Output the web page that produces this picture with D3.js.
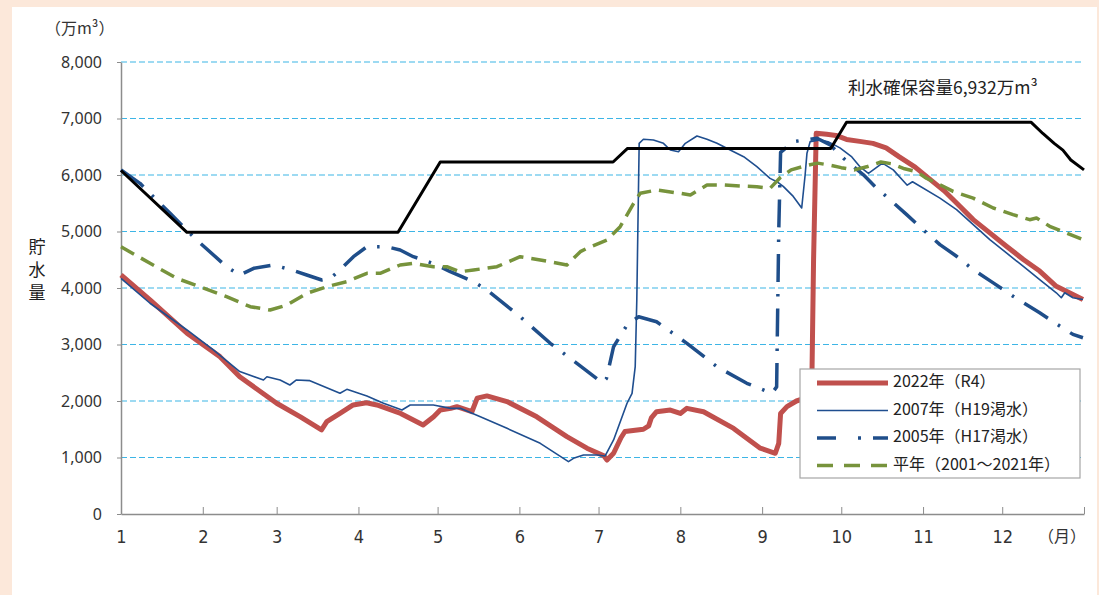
<!DOCTYPE html>
<html><head><meta charset="utf-8">
<script src="https://cdn.jsdelivr.net/npm/d3@7"></script>
<style>body{margin:0;background:#fce8da;}svg{display:block;}</style>
</head><body>
<svg id="chart" width="1099" height="595"></svg>
<script>
// ---- data (day of year, 万m³) ----
const monthStarts = [0,31,59,90,120,151,181,212,243,273,304,334,365];
const monthLabels = ["1","2","3","4","5","6","7","8","9","10","11","12",""];
const yTicks = [0,1000,2000,3000,4000,5000,6000,7000,8000];

const capacity = [[0,6080],[25,4985],[105,4985],[121,6230],[186.5,6230],[192,6470],[269,6470],[275,6932],[345,6932],[349.4,6735],[353.7,6560],[357,6440],[360,6265],[365,6090]];

const y2022 = [[0,4230],[11,3790],[25,3200],[37.5,2785],[45,2430],[59,1960],[68,1720],[76,1490],[78,1635],[83,1780],[88,1930],[93,1970],[97,1930],[106,1780],[114.5,1575],[118.5,1720],[121,1840],[125,1870],[127.3,1900],[133,1810],[135,2050],[138.7,2090],[146.3,1990],[157.6,1720],[169,1370],[176.6,1165],[183,1030],[184.2,955],[186.7,1075],[189.5,1350],[191,1460],[198,1500],[200,1560],[201,1700],[203,1810],[208.2,1840],[212,1780],[214.5,1870],[220.8,1810],[232.2,1515],[242.3,1165],[244.2,1135],[248,1075],[249.3,1250],[250,1780],[252.4,1900],[256,2000],[260,2060],[261.8,2150],[262.5,4500],[263.5,6740],[267.5,6720],[271,6700],[275,6630],[280,6595],[285,6560],[290,6480],[295,6320],[301,6140],[307,5910],[312,5720],[316.7,5505],[323,5210],[329.3,4975],[335.6,4740],[342,4505],[348.2,4300],[354.5,4030],[360.8,3885],[364.6,3795]];

const y2007 = [[0,4170],[11,3730],[25,3257],[35,2903],[45,2520],[54,2372],[55.3,2430],[60.3,2372],[64,2283],[66.5,2372],[71.6,2360],[83,2136],[85.6,2206],[93.2,2088],[99.5,1960],[106.5,1840],[109.6,1929],[118.4,1929],[125,1870],[128.6,1870],[136.2,1722],[146.3,1516],[158.9,1251],[169.6,926],[171.5,986],[175.3,1044],[180.4,1044],[183.5,1027],[186.7,1310],[191.8,1960],[193.7,2136],[194.9,2607],[195.5,3788],[196.4,6561],[198,6632],[201.8,6620],[205.6,6561],[208.2,6442],[211.3,6413],[213.9,6561],[218.3,6690],[222.1,6632],[225.9,6561],[230.9,6442],[236,6324],[241,6147],[246,5940],[248.6,5882],[251,5798],[254.8,5621],[258,5416],[259.3,6000],[260,6386],[261.2,6591],[265,6621],[268,6590],[272.5,6480],[277,6320],[280,6150],[283.3,6030],[288.6,6210],[292.7,6090],[298,5820],[300,5880],[310.4,5590],[316.7,5386],[323,5122],[329.3,4857],[335.6,4621],[341.9,4386],[348.2,4150],[354.5,3915],[356.4,3827],[357.7,3915],[360.8,3827],[364.6,3796]];

const y2005 = [[0,6090],[7.2,5853],[18.6,5322],[28,4880],[40,4377],[45,4230],[50.3,4348],[57.8,4407],[64.7,4319],[70.4,4230],[76.1,4142],[79.3,4171],[83,4319],[88.1,4554],[93.2,4731],[100.7,4731],[105.8,4673],[110.8,4554],[114.6,4496],[119.7,4407],[124.8,4288],[133.6,4112],[138.7,3965],[151.3,3492],[162.7,3021],[172.8,2667],[182.5,2320],[184,2400],[186.7,2961],[191.8,3345],[196.2,3492],[203,3403],[214.5,3021],[225.9,2607],[237.2,2313],[246.7,2136],[248.5,2250],[249.3,5000],[250,6400],[254.9,6591],[263.8,6651],[268.8,6533],[273.8,6297],[281.4,6003],[286.4,5768],[291.5,5563],[297.8,5298],[304,5032],[310.4,4768],[316.7,4561],[323,4325],[330.6,4090],[338.1,3855],[348.2,3561],[355.8,3327],[360.8,3179],[364.6,3120]];

const yAvg = [[0,4731],[11,4437],[21.1,4171],[30,4023],[40,3846],[49,3669],[56.5,3611],[62.9,3699],[70.4,3906],[78,4023],[85.6,4112],[93.2,4260],[98.2,4260],[105.8,4407],[110.8,4437],[118.4,4377],[123.5,4377],[128.6,4288],[133.6,4319],[142.5,4377],[151.3,4554],[158.9,4496],[169,4407],[174.1,4643],[176.6,4702],[184.2,4850],[189.2,5085],[194.3,5499],[196.8,5676],[203,5735],[211.9,5676],[215.8,5646],[222.1,5823],[228.4,5823],[234.7,5805],[241,5793],[246,5764],[250,5960],[254,6090],[260,6170],[264,6210],[268,6180],[273,6130],[278,6090],[283,6150],[288,6230],[292,6200],[297,6110],[301.5,6060],[305,5950],[309,5860],[315.4,5710],[323,5591],[330.6,5416],[338.1,5298],[344.4,5209],[347,5239],[352,5092],[358.4,4973],[364.6,4857]];

const legendLabels = ["2022年（R4）","2007年（H19渇水）","2005年（H17渇水）","平年（2001～2021年）"];
const capacityLabel = "利水確保容量6,932万m³";

// ---- drawing ----
const svg = d3.select("#chart");
const jp = "'Noto Sans CJK JP','Noto Sans',sans-serif";
svg.append("rect").attr("x",0).attr("y",0).attr("width",1099).attr("height",595).attr("fill","#fce8da");
svg.append("rect").attr("x",12).attr("y",7).attr("width",1085).attr("height",588).attr("fill","#ffffff");

const x = d3.scaleLinear().domain([0,365]).range([121,1084]);
const y = d3.scaleLinear().domain([0,8000]).range([514,62]);

// gridlines
svg.append("g").selectAll("line").data(yTicks.filter(d=>d>0)).join("line")
  .attr("x1",x(0)).attr("x2",x(365)).attr("y1",d=>y(d)).attr("y2",d=>y(d))
  .attr("stroke","#3db5e6").attr("stroke-width",1.2).attr("stroke-dasharray","6,3");

// axes
const yAxis = svg.append("g").attr("transform",`translate(${x(0)},0)`)
  .call(d3.axisLeft(y).tickValues(yTicks).tickFormat(d3.format(",")).tickSizeInner(4).tickSizeOuter(0).tickPadding(15));
yAxis.select(".domain").attr("stroke","#8c8c8c").attr("stroke-width",1.5);
yAxis.selectAll(".tick line").attr("stroke","#8c8c8c");
yAxis.selectAll("text").attr("font-family","'Noto Sans',sans-serif").attr("font-size",16).attr("fill","#333");

const xAxis = svg.append("g").attr("transform",`translate(0,${y(0)})`)
  .call(d3.axisBottom(x).tickValues(monthStarts).tickFormat((d,i)=>monthLabels[i]).tickSizeInner(-7).tickSizeOuter(0).tickPadding(16));
xAxis.select(".domain").attr("stroke","#8c8c8c").attr("stroke-width",1.5);
xAxis.selectAll(".tick line").attr("stroke","#8c8c8c");
xAxis.selectAll("text").attr("font-family","'Liberation Sans Narrow','DejaVu Sans Condensed',sans-serif").attr("font-size",18).attr("fill","#333");

svg.append("text").attr("x",1062).attr("y",538).attr("text-anchor","middle").attr("dominant-baseline","middle")
  .attr("font-family",jp).attr("font-size",16).attr("fill","#333").text("（月）");
svg.append("text").attr("x",45).attr("y",30).attr("dominant-baseline","middle")
  .attr("font-family",jp).attr("font-size",16).attr("fill","#333").text("（万m³）");
svg.append("g").selectAll("text").data(["貯","水","量"]).join("text")
  .attr("x",37).attr("y",(d,i)=>248+i*23).attr("text-anchor","middle").attr("dominant-baseline","middle")
  .attr("font-family",jp).attr("font-size",17).attr("fill","#222").text(d=>d);

svg.append("text").attr("x",848).attr("y",89).attr("dominant-baseline","middle")
  .attr("font-family",jp).attr("font-size",17.5).attr("fill","#222").text(capacityLabel);

const line = d3.line().x(d=>x(d[0])).y(d=>y(d[1]));
const styles = [
  {data:y2022, color:"#c0504d", w:5, dash:null},
  {data:y2007, color:"#1f4e8f", w:1.6, dash:null},
  {data:y2005, color:"#1f4e8a", w:3.5, dash:"28,12,2.5,12"},
  {data:yAvg,  color:"#77933c", w:3.5, dash:"15,8"},
  {data:capacity, color:"#000000", w:3, dash:null}
];
svg.append("g").selectAll("path").data(styles).join("path")
  .attr("d",s=>line(s.data)).attr("fill","none").attr("stroke",s=>s.color)
  .attr("stroke-width",s=>s.w).attr("stroke-dasharray",s=>s.dash).attr("stroke-linejoin","round");

// legend
const lg = svg.append("g");
lg.append("rect").attr("x",800).attr("y",369).attr("width",280).attr("height",109)
  .attr("fill","#fff").attr("stroke","#a6a6a6").attr("stroke-width",1.2);
const rows = lg.selectAll("g").data(styles.slice(0,4)).join("g")
  .attr("transform",(d,i)=>`translate(0,${383+i*27.5})`);
rows.append("line").attr("x1",817).attr("x2",888).attr("y1",0).attr("y2",0)
  .attr("stroke",d=>d.color).attr("stroke-width",d=>d.w)
  .attr("stroke-dasharray",(d,i)=>i===2?"19,22,3,12":(i===3?"16,11":null));
rows.append("text").attr("x",893).attr("y",0).attr("dominant-baseline","middle")
  .attr("font-family",jp).attr("font-size",16).attr("fill","#222").text((d,i)=>legendLabels[i]);
</script>
</body></html>
